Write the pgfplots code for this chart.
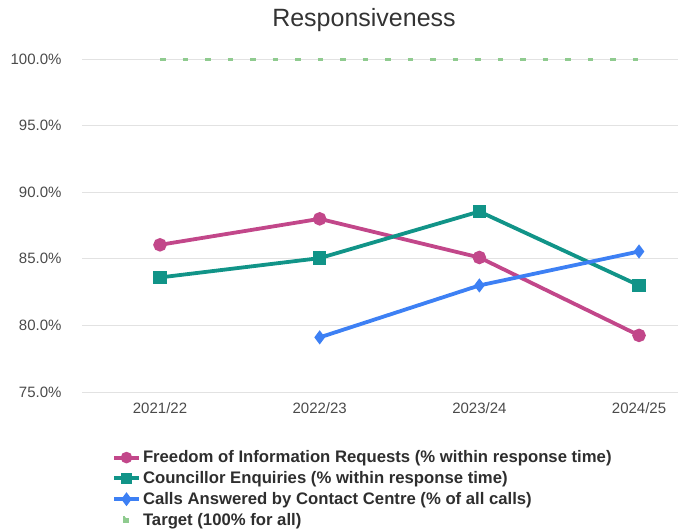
\documentclass[border=0pt]{standalone}
\usepackage{fontspec}
\setmainfont{Liberation Sans}
\usepackage{pgfplots}
\pgfplotsset{compat=1.18}
\definecolor{foi}{HTML}{C2478A}
\definecolor{cou}{HTML}{119488}
\definecolor{cal}{HTML}{3D80F4}
\definecolor{tgt}{HTML}{8FCB8F}
\definecolor{gridc}{HTML}{E2E2E2}
\definecolor{tickc}{HTML}{4A4A4A}
\begin{document}
\begin{tikzpicture}
\path[use as bounding box] (0,0) rectangle (678pt,531pt);
\node[font=\fontsize{25}{28}\selectfont, text=black!80] at (364pt,511pt) {Responsiveness};
\begin{axis}[
  at={(82pt,139pt)}, anchor=south west,
  scale only axis, width=596pt, height=333pt,
  xmin=-0.4885, xmax=3.244, ymin=75, ymax=100,
  axis line style={draw=none},
  xtick={0,1,2,3},
  xticklabels={2021/22,2022/23,2023/24,2024/25},
  ytick={75,80,85,90,95,100},
  yticklabel={\pgfmathprintnumber[fixed,fixed zerofill,precision=1]{\tick}\%},
  /pgf/number format/assume math mode=true,
  major tick length=0pt,
  ymajorgrids, grid style={gridc, line width=1pt},
  ticklabel style={font=\fontsize{15}{17}\selectfont, text=tickc},
  yticklabel style={xshift=-17pt},
  xticklabel style={yshift=-7pt},
  clip=false,
  legend cell align=left,
  legend style={draw=none, fill=none, at={(0.05,-0.17)}, anchor=north west,
    font=\bfseries\fontsize{16.7}{18}\selectfont, text=black!82, row sep=3.2pt, inner sep=0pt,
    /tikz/every even column/.append style={column sep=4pt}},
  legend image code/.code={\draw[#1, mark=none, line width=4pt] (0pt,0pt) -- (25pt,0pt); \path[#1, mark size=3.8pt] plot coordinates {(12.5pt,0pt)};},
]
\addplot[foi, line width=3.8pt, mark=*, mark size=4.8pt]
  coordinates {(0,86.05) (1,88.0) (2,85.1) (3,79.25)};
\addlegendentry{Freedom of Information Requests (\% within response time)}
\addplot[cou, line width=3.8pt, mark=square*, mark size=4.8pt]
  coordinates {(0,83.6) (1,85.05) (2,88.55) (3,83.0)};
\addlegendentry{Councillor Enquiries (\% within response time)}
\addplot[cal, line width=3.8pt, mark=diamond*, mark size=4pt]
  coordinates {(1,79.1) (2,83.0) (3,85.55)};
\addlegendentry{Calls Answered by Contact Centre (\% of all calls)}
\addplot[tgt, line width=3pt, dash pattern=on 5.5pt off 17pt, mark=none,
  legend image code/.code={\fill[tgt] (10pt,-2.5pt) rectangle (15pt,2.5pt);}]
  coordinates {(0,100) (1,100) (2,100) (3,100)};
\addlegendentry{Target (100\% for all)}
\end{axis}
\end{tikzpicture}
\end{document}
